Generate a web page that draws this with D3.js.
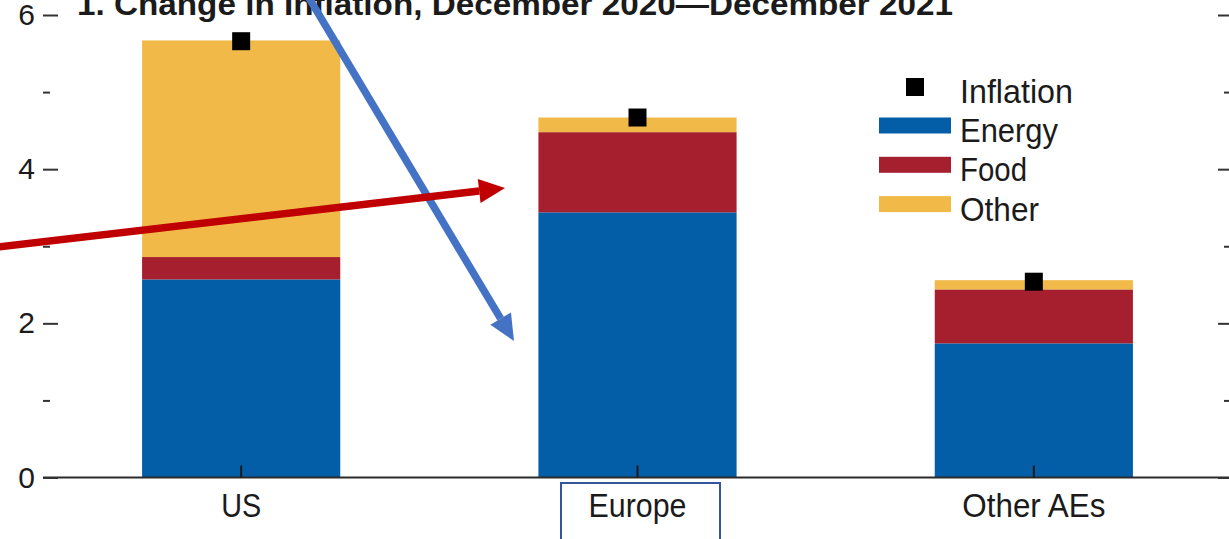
<!DOCTYPE html>
<html>
<head>
<meta charset="utf-8">
<script src="https://cdn.jsdelivr.net/npm/d3@7"></script>
<style>
  html, body { margin: 0; padding: 0; background: #fff; }
  svg { display: block; }
  text { font-family: "Liberation Sans", Arial, sans-serif; fill: #1b1b1b; }
</style>
</head>
<body>
<svg id="chart" width="1229" height="539"></svg>
<script>
// Contributions to the change in inflation, Dec 2020 – Dec 2021 (percentage points)
const regions = ["US", "Europe", "Other AEs"];
const energy = [2.57, 3.44, 1.74];
const food = [0.29, 1.04, 0.70];
const other = [2.81, 0.19, 0.12];
const inflation = [5.66, 4.67, 2.54];

const majorTicks = [0, 2, 4, 6];
const minorTicks = [1, 3, 5];

const seriesKeys = ["energy", "food", "other"];
const seriesNames = ["Energy", "Food", "Other"];
const seriesColors = ["#035da7", "#a61f2e", "#f1ba48"];

const titleText = "1. Change in Inflation, December 2020\u2014December 2021";

// Rendered widths of the condensed label face
const regionLabelWidths = [40, 98, 143];
const legendLabelWidths = [113, 98, 67, 79];

const svg = d3.select("#chart");

const plotLeft = 43, plotRight = 1232;
const y = d3.scaleLinear().domain([0, 6]).range([477.5, 15]);
const x = d3.scaleBand().domain(regions).range([plotLeft, plotRight])
  .paddingInner(0.5).paddingOuter(0.25);

const rows = regions.map((r, i) => ({ region: r, energy: energy[i], food: food[i], other: other[i] }));
const stacked = d3.stack().keys(seriesKeys)(rows);

// Stacked bars
svg.append("g").selectAll("g")
  .data(stacked)
  .join("g")
  .attr("fill", (d, i) => seriesColors[i])
  .selectAll("rect")
  .data(d => d)
  .join("rect")
  .attr("x", d => x(d.data.region))
  .attr("width", x.bandwidth())
  .attr("y", d => y(d[1]))
  .attr("height", d => y(d[0]) - y(d[1]));

// Baseline
svg.append("line")
  .attr("x1", plotLeft).attr("x2", 1229)
  .attr("y1", y(0)).attr("y2", y(0))
  .attr("stroke", "#2b2b2b").attr("stroke-width", 2);

// Inward category ticks
const xAxis = svg.append("g")
  .attr("transform", `translate(0,${y(0)})`)
  .call(d3.axisBottom(x).tickSize(-12).tickFormat(""));
xAxis.select(".domain").remove();
xAxis.selectAll(".tick line").attr("stroke", "#1b1b1b").attr("stroke-width", 2);

// Category labels
svg.append("g").selectAll("text")
  .data(regions)
  .join("text")
  .attr("x", d => x(d) + x.bandwidth() / 2)
  .attr("y", 517)
  .attr("text-anchor", "middle")
  .attr("font-size", 33)
  .attr("textLength", (d, i) => regionLabelWidths[i])
  .attr("lengthAdjust", "spacingAndGlyphs")
  .text(d => d);

// Left axis: major and minor ticks
const leftMajor = svg.append("g")
  .attr("transform", "translate(58,0)")
  .call(d3.axisLeft(y).tickValues(majorTicks).tickSize(15).tickPadding(8).tickFormat(d3.format("d")));
leftMajor.select(".domain").remove();
leftMajor.selectAll(".tick line").attr("stroke", "#333").attr("stroke-width", 2);
leftMajor.selectAll(".tick text")
  .attr("font-size", 30)
  .attr("font-family", "Liberation Sans, Arial, sans-serif")
  .attr("fill", "#1b1b1b");

const leftMinor = svg.append("g")
  .attr("transform", "translate(50,0)")
  .call(d3.axisLeft(y).tickValues(minorTicks).tickSize(7).tickFormat(""));
leftMinor.select(".domain").remove();
leftMinor.selectAll(".tick line").attr("stroke", "#333").attr("stroke-width", 2);

// Right axis: major and minor ticks
const rightMajor = svg.append("g")
  .attr("transform", "translate(1218,0)")
  .call(d3.axisRight(y).tickValues(majorTicks).tickSize(12).tickFormat(""));
rightMajor.select(".domain").remove();
rightMajor.selectAll(".tick line").attr("stroke", "#333").attr("stroke-width", 2);

const rightMinor = svg.append("g")
  .attr("transform", "translate(1224,0)")
  .call(d3.axisRight(y).tickValues(minorTicks).tickSize(6).tickFormat(""));
rightMinor.select(".domain").remove();
rightMinor.selectAll(".tick line").attr("stroke", "#333").attr("stroke-width", 2);

// Headline inflation markers
const markerSize = 18;
svg.append("g").selectAll("rect")
  .data(regions)
  .join("rect")
  .attr("x", d => x(d) + x.bandwidth() / 2 - markerSize / 2)
  .attr("y", (d, i) => y(inflation[i]) - markerSize / 2)
  .attr("width", markerSize)
  .attr("height", markerSize)
  .attr("fill", "#000");

// Legend
const legend = svg.append("g");
legend.append("rect")
  .attr("x", 906).attr("y", 78).attr("width", 18).attr("height", 18)
  .attr("fill", "#000");
legend.append("text")
  .attr("x", 960).attr("y", 102.5)
  .attr("font-size", 33)
  .attr("textLength", legendLabelWidths[0])
  .attr("lengthAdjust", "spacingAndGlyphs")
  .text("Inflation");
seriesNames.forEach((name, i) => {
  const top = 117.5 + i * 39.3;
  legend.append("rect")
    .attr("x", 879).attr("y", top).attr("width", 72).attr("height", 16)
    .attr("fill", seriesColors[i]);
  legend.append("text")
    .attr("x", 960).attr("y", top + 24.5)
    .attr("font-size", 33)
    .attr("textLength", legendLabelWidths[i + 1])
    .attr("lengthAdjust", "spacingAndGlyphs")
    .text(name);
});

// Panel title (partly above the top edge)
svg.append("text")
  .attr("x", 77).attr("y", 15)
  .attr("font-family", "Liberation Sans Narrow, Liberation Sans, Arial, sans-serif")
  .attr("font-weight", "bold")
  .attr("font-size", 31)
  .attr("fill", "#000")
  .attr("textLength", 876)
  .attr("lengthAdjust", "spacingAndGlyphs")
  .text(titleText);

// Frame around the Europe label
svg.append("rect")
  .attr("x", 561).attr("y", 483).attr("width", 159).attr("height", 70)
  .attr("fill", "none")
  .attr("stroke", "#33559a")
  .attr("stroke-width", 2);

// Annotation arrows
function arrow(x1, y1, x2, y2, color) {
  const ang = Math.atan2(y2 - y1, x2 - x1);
  const headLen = 26, headHalf = 12;
  const bx = x2 - headLen * Math.cos(ang), by = y2 - headLen * Math.sin(ang);
  const g = svg.append("g");
  g.append("line")
    .attr("x1", x1).attr("y1", y1).attr("x2", bx).attr("y2", by)
    .attr("stroke", color).attr("stroke-width", 7.5);
  const px = -Math.sin(ang), py = Math.cos(ang);
  g.append("path")
    .attr("d", d3.line()([
      [x2, y2],
      [bx + px * headHalf, by + py * headHalf],
      [bx - px * headHalf, by - py * headHalf]
    ]) + "Z")
    .attr("fill", color);
}
arrow(309, -2, 514, 341, "#4472c4");
arrow(-2, 247, 505, 188, "#c00000");
</script>
</body>
</html>
